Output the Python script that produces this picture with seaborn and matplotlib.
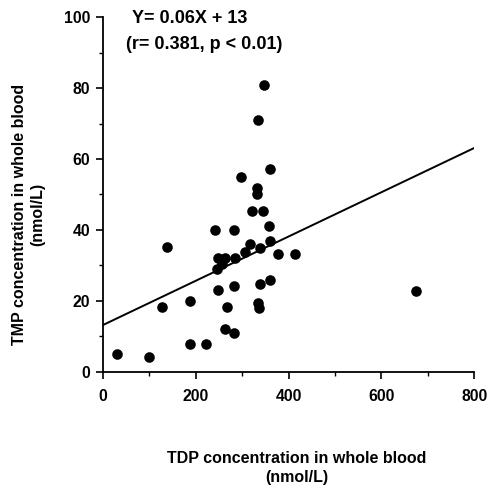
import matplotlib
matplotlib.use("Agg")
import matplotlib.pyplot as plt
import seaborn as sns
import numpy as np
import pandas as pd
from matplotlib.ticker import MultipleLocator

sns.set_theme(style="ticks", rc={"text.color": "black", "axes.labelcolor": "black",
                                 "xtick.color": "black", "ytick.color": "black",
                                 "axes.edgecolor": "black"})
plt.rcParams['font.family'] = ['Liberation Sans', 'DejaVu Sans']

tdp = [31, 99, 138, 128, 188, 188, 222, 242, 282, 297, 334, 346, 360, 332, 332,
       322, 344, 357, 359, 316, 339, 305, 377, 414, 247, 262, 285, 257, 245, 247,
       282, 339, 360, 267, 333, 337, 262, 282, 675]
tmp = [5.1, 4.3, 35.1, 18.2, 20.1, 7.9, 7.9, 39.9, 39.9, 55.0, 71.1, 80.9, 57.2, 51.9, 50.0,
       45.2, 45.2, 41.0, 36.9, 36.1, 35.0, 33.9, 33.2, 33.2, 32.0, 32.0, 32.0, 30.5, 29.0, 23.1,
       24.1, 24.9, 26.0, 18.2, 19.3, 17.9, 12.1, 10.9, 22.9]
fit_intercept = 13.2
fit_slope = 0.0624
line_x = [0, 800]

df = pd.DataFrame({"TDP": tdp, "TMP": tmp})
line_df = pd.DataFrame({"x": line_x, "y": [fit_intercept + fit_slope * v for v in line_x]})

fig = plt.figure(figsize=(4.88, 4.88), dpi=100)
ax = fig.add_axes([0.211, 0.238, 0.761, 0.727])

sns.lineplot(data=line_df, x="x", y="y", ax=ax, color="black", linewidth=1.4)
sns.scatterplot(data=df, x="TDP", y="TMP", ax=ax, color="black", s=58,
                edgecolor="black", linewidth=0, zorder=3)

ax.set_xlim(0, 800)
ax.set_ylim(0, 100)
ax.xaxis.set_major_locator(MultipleLocator(200))
ax.xaxis.set_minor_locator(MultipleLocator(100))
ax.yaxis.set_major_locator(MultipleLocator(20))
ax.yaxis.set_minor_locator(MultipleLocator(10))
ax.tick_params(which="major", length=5, width=1.2, labelsize=11.3, pad=4, colors="black")
ax.tick_params(which="minor", length=3, width=1.0, colors="black")
for lab in ax.get_xticklabels() + ax.get_yticklabels():
    lab.set_fontweight("bold")
ax.xaxis.set_tick_params(pad=7)
for s in ["top", "right"]:
    ax.spines[s].set_visible(False)
for s in ["left", "bottom"]:
    ax.spines[s].set_linewidth(1.3)
    ax.spines[s].set_color("black")
ax.set_xlabel("")
ax.set_ylabel("")

fig.text(0.608, 0.041, "TDP concentration in whole blood\n(nmol/L)", ha="center", va="center",
         fontsize=11.5, fontweight="bold", linespacing=1.3, color="black")
fig.text(0.058, 0.56, "TMP concentration in whole blood\n(nmol/L)", ha="center", va="center",
         rotation=90, fontsize=11.5, fontweight="bold", linespacing=1.3, color="black")
ax.text(62, 99.5, "Y= 0.06X + 13", fontsize=13, fontweight="bold", va="center", ha="left",
        color="black")
ax.text(50, 92.3, "(r= 0.381, p < 0.01)", fontsize=13, fontweight="bold", va="center", ha="left",
        color="black")

fig.savefig("out.png", dpi=100)
